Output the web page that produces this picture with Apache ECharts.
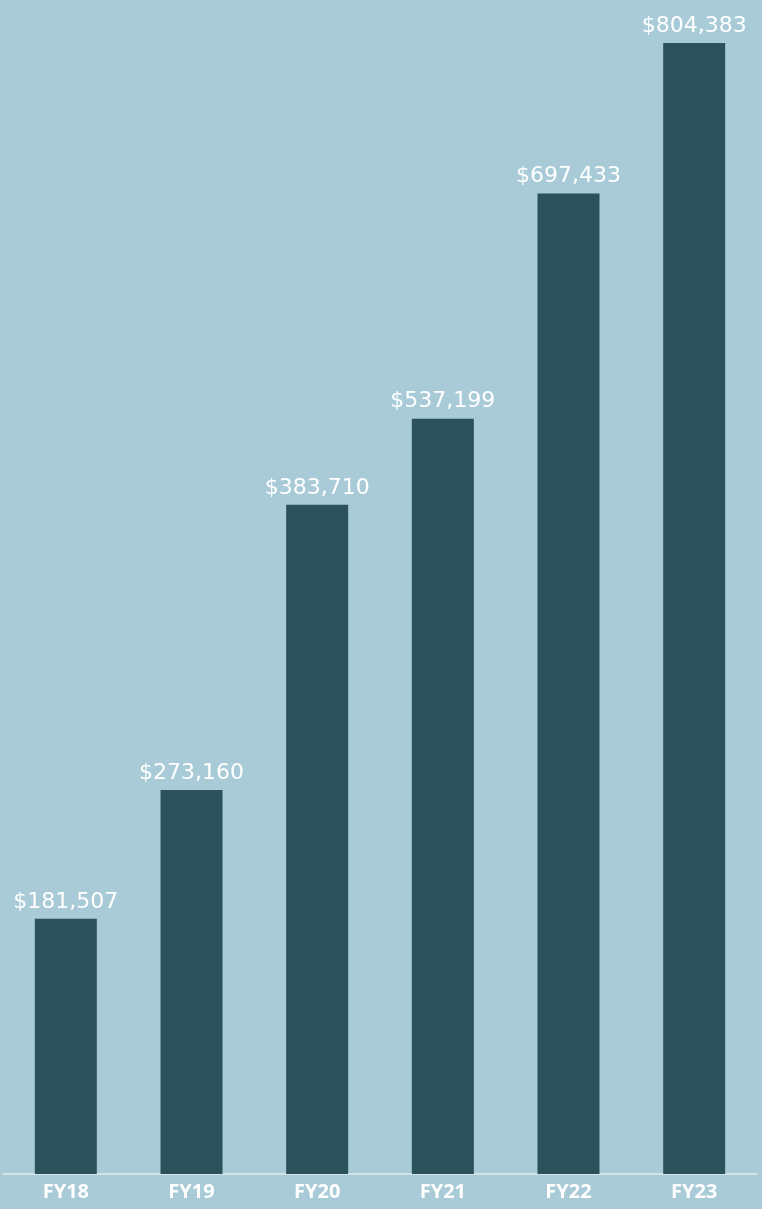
<!DOCTYPE html>
<html><head><meta charset="utf-8">
<script src="https://cdn.jsdelivr.net/npm/echarts@6/dist/echarts.min.js"></script>
<style>html,body{margin:0;padding:0;background:#a9cbd7;}#c{width:762px;height:1209px;}</style>
</head><body><div id="c"></div>
<script>
const categories = ['FY18','FY19','FY20','FY21','FY22','FY23'];
// bar heights as drawn in the reference (FY20 bar is drawn taller than its label)
const values = [181507, 273160, 475900, 537199, 697433, 804383];
// value labels as printed in the reference
const labels = ['$181,507','$273,160','$383,710','$537,199','$697,433','$804,383'];
const chart = echarts.init(document.getElementById('c'));
chart.setOption({
  backgroundColor: '#a9cbd7',
  animation: false,
  grid: {left: 3, right: 5, top: 43, bottom: 35},
  xAxis: {
    type: 'category', data: categories,
    axisLine: {show: true, lineStyle: {color: '#d2e3e9', width: 2}},
    axisTick: {show: false},
    axisLabel: {color: '#ffffff', fontFamily: 'Open Sans', fontWeight: 'bold', fontSize: 20, margin: 8}
  },
  yAxis: {type: 'value', min: 0, max: Math.max(...values), show: false, splitLine: {show: false}},
  series: [{
    type: 'bar', data: values, barWidth: 62,
    itemStyle: {color: '#2b515a'},
    label: {show: true, position: 'top', distance: 6, color: '#ffffff', fontFamily: 'DejaVu Sans', fontSize: 22,
      formatter: p => labels[p.dataIndex]}
  }]
});
</script></body></html>
